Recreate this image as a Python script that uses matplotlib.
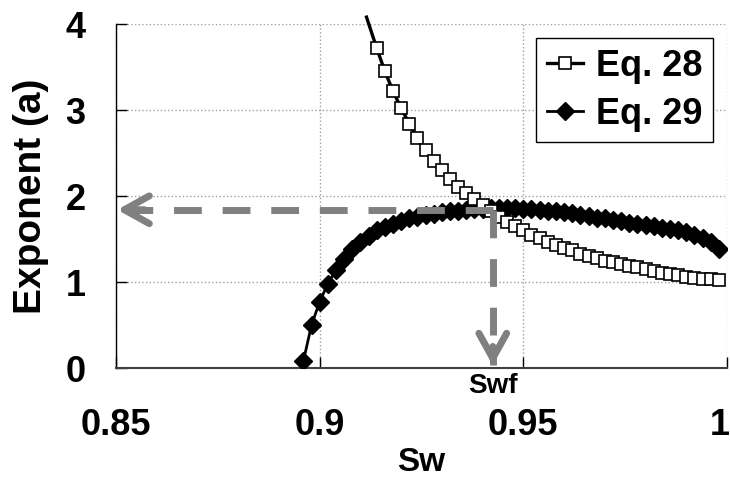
import matplotlib
matplotlib.use('Agg')
import matplotlib.pyplot as plt
from matplotlib.transforms import ScaledTranslation

plt.rcParams['font.family'] = ['Liberation Sans', 'DejaVu Sans']
plt.rcParams['font.weight'] = 'bold'

# values (first Eq. 28 point only carries the line past the top)
eq28_sw = [0.9115, 0.914, 0.916, 0.918, 0.920, 0.922, 0.924, 0.926, 0.928, 0.930,
           0.932, 0.934, 0.936, 0.938, 0.940, 0.942, 0.944, 0.946, 0.948, 0.950,
           0.952, 0.954, 0.956, 0.958, 0.960, 0.962, 0.964, 0.966, 0.968, 0.970,
           0.972, 0.974, 0.976, 0.978, 0.980, 0.982, 0.984, 0.986, 0.988, 0.990,
           0.992, 0.994, 0.996, 0.998]
eq28_a = [4.08, 3.72, 3.45, 3.22, 3.02, 2.84, 2.68, 2.54, 2.41, 2.30,
          2.20, 2.11, 2.03, 1.96, 1.90, 1.83, 1.76, 1.70, 1.65, 1.60,
          1.55, 1.51, 1.47, 1.43, 1.40, 1.37, 1.33, 1.30, 1.28, 1.25,
          1.23, 1.21, 1.19, 1.17, 1.15, 1.13, 1.11, 1.09, 1.08, 1.06,
          1.05, 1.04, 1.03, 1.02]

eq29_sw = [0.896, 0.898, 0.900, 0.902, 0.904, 0.906, 0.908, 0.910, 0.912, 0.914,
           0.916, 0.918, 0.920, 0.922, 0.924, 0.926, 0.928, 0.930, 0.932, 0.934,
           0.936, 0.938, 0.940, 0.942, 0.944, 0.946, 0.948, 0.950, 0.952, 0.954,
           0.956, 0.958, 0.960, 0.962, 0.964, 0.966, 0.968, 0.970, 0.972, 0.974,
           0.976, 0.978, 0.980, 0.982, 0.984, 0.986, 0.988, 0.990, 0.992, 0.994,
           0.996, 0.998]
eq29_a = [0.08, 0.50, 0.77, 0.98, 1.14, 1.27, 1.38, 1.47, 1.54, 1.60,
          1.64, 1.68, 1.71, 1.74, 1.76, 1.78, 1.79, 1.81, 1.82, 1.83,
          1.84, 1.85, 1.85, 1.86, 1.86, 1.86, 1.86, 1.85, 1.85, 1.84,
          1.83, 1.82, 1.81, 1.80, 1.78, 1.77, 1.75, 1.74, 1.72, 1.71,
          1.69, 1.68, 1.66, 1.65, 1.63, 1.62, 1.60, 1.58, 1.55, 1.51,
          1.46, 1.38]

swf = 0.9425
a_swf = 1.84

xticks = [0.85, 0.9, 0.95, 1.0]
xlabels = ['0.85', '0.9', '0.95', '1']
yticks = [0, 1, 2, 3, 4]

fig = plt.figure(figsize=(7.3, 4.8), dpi=100)
ax = fig.add_axes([116/730, 112/480, 611/730, 344/480])

l29, = ax.plot(eq29_sw, eq29_a, color='black', lw=2, marker='D', ms=9.5,
               mfc='black', mec='black', zorder=3)
l28, = ax.plot(eq28_sw, eq28_a, color='black', lw=2.4, marker='s', ms=9,
               mfc='white', mec='black', mew=1.2, markevery=list(range(1, len(eq28_sw))),
               zorder=4, clip_on=False)

ax.set_xlim(0.85, 1.0)
ax.set_ylim(0, 4)
ax.set_xticks(xticks)
ax.set_xticklabels(xlabels)
ax.set_yticks(yticks)
ax.grid(True, color='#a0a0a0', linestyle=':', linewidth=1)
ax.set_axisbelow(True)

for s in ['top', 'right']:
    ax.spines[s].set_visible(False)
ax.spines['left'].set_color('black')
ax.spines['left'].set_linewidth(1)
ax.spines['bottom'].set_color('#404040')
ax.spines['bottom'].set_linewidth(1.5)

ax.tick_params(direction='in', length=8, width=1, labelsize=26, color='black')
ax.tick_params(axis='x', pad=29)
ax.tick_params(axis='y', pad=22)

# keep the "1" inside the figure edge
last = ax.get_xticklabels()[-1]
last.set_horizontalalignment('right')
last.set_transform(last.get_transform() + ScaledTranslation(3/100, 0, fig.dpi_scale_trans))

ax.set_xlabel('Sw', fontsize=24, fontweight='bold', labelpad=3)
ax.set_ylabel('Exponent (a)', fontsize=28, fontweight='bold', labelpad=12)

# dashed guide arrows from the crossing point
gray = '#808080'
ax.plot([swf, 0.85], [a_swf, a_swf], color=gray, lw=5, ls=(0, (4, 3)), zorder=6, clip_on=False)
ax.plot([swf, swf], [a_swf, 0.03], color=gray, lw=5, ls=(0, (4, 3)), zorder=6, clip_on=False)
head = dict(arrowstyle='->,head_length=1.8,head_width=1.0', color=gray, lw=5,
            shrinkA=0, shrinkB=0, mutation_scale=10, capstyle='round', joinstyle='round')
ax.annotate('', xy=(0.8503, a_swf), xytext=(0.857, a_swf), arrowprops=head, zorder=7)
ax.annotate('', xy=(swf, 0.03), xytext=(swf, 0.25), arrowprops=head, zorder=7)

ax.text(swf, -0.06, 'Swf', ha='center', va='top', fontsize=20, fontweight='bold', clip_on=False)

leg = ax.legend([l28, l29], ['Eq. 28', 'Eq. 29'], loc='upper right',
                bbox_to_anchor=(0.977, 0.959), borderaxespad=0, fontsize=26,
                fancybox=False, framealpha=1, edgecolor='black', handlelength=1.0,
                handletextpad=0.35, labelspacing=0.35, borderpad=0.3)
leg.get_frame().set_linewidth(1)

fig.savefig('out.png', dpi=100)
